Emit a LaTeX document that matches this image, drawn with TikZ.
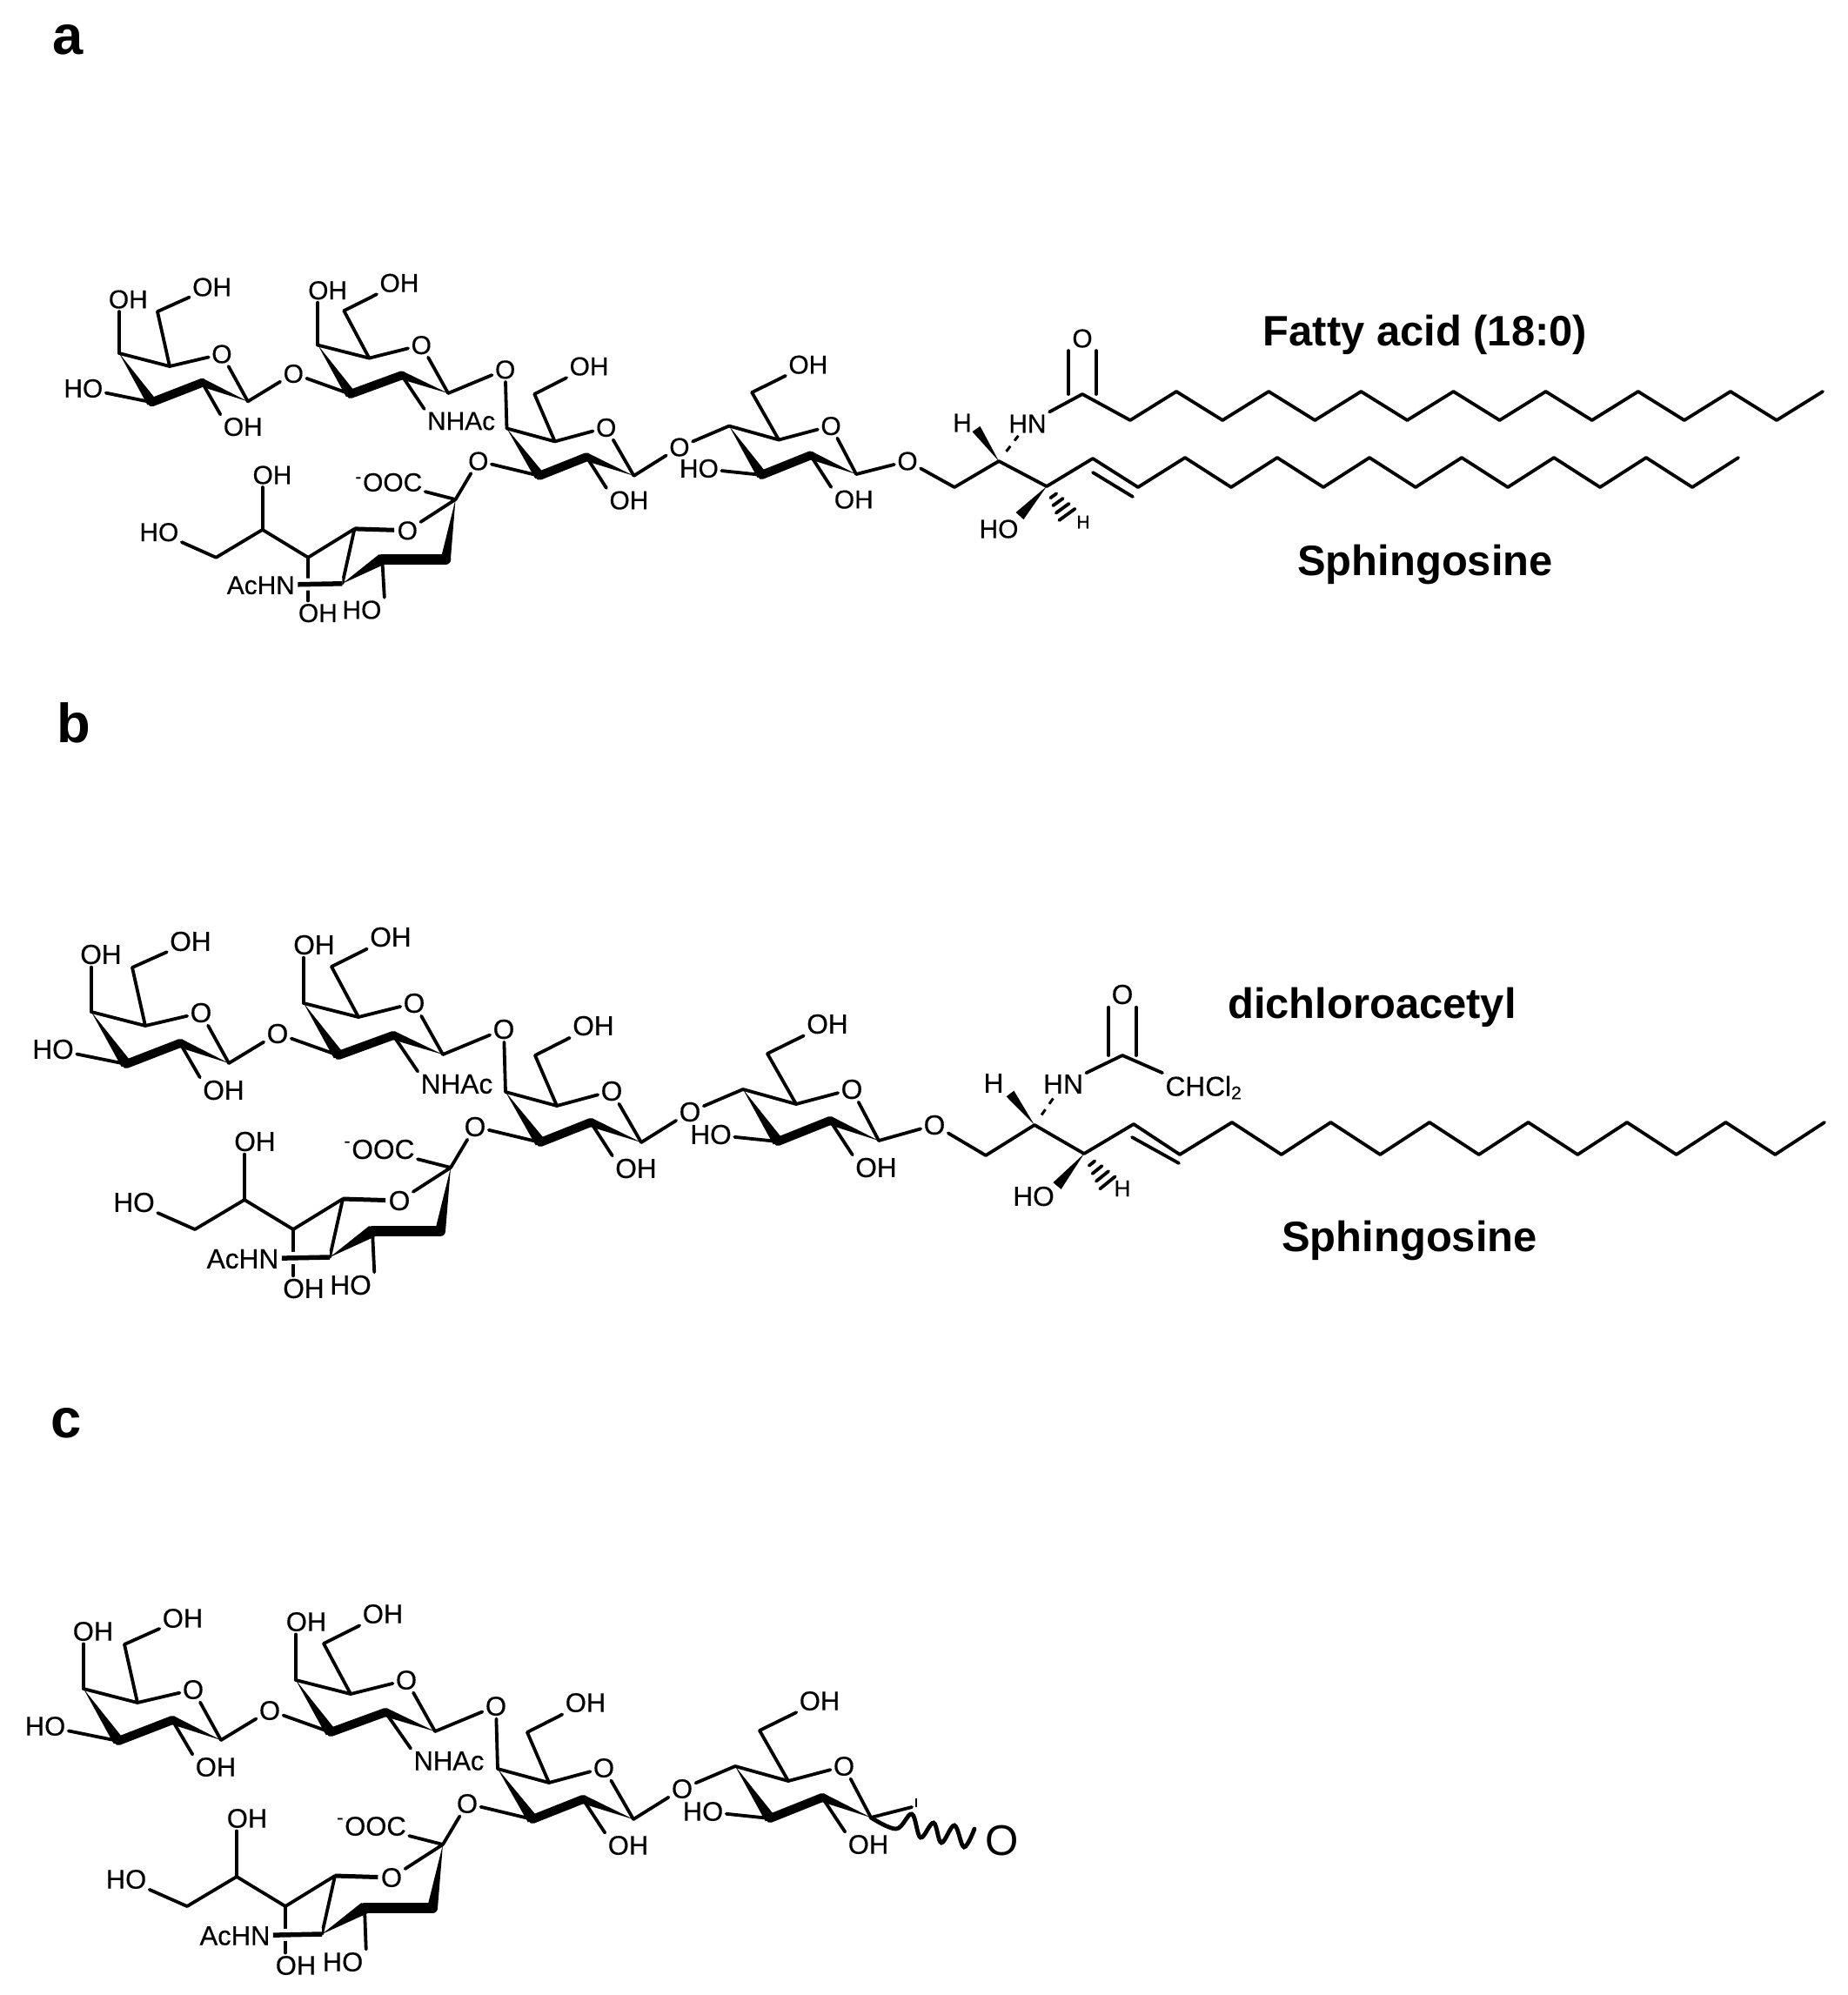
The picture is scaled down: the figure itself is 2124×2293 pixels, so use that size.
\documentclass[tikz,border=0pt]{standalone}
\usepackage{fontspec}
\setmainfont{Liberation Sans}
\newfontfamily\atomfont[FakeBold=0.4]{Liberation Sans}
\usetikzlibrary{calc}
\tikzset{
  bond/.style={line width=0.038cm,line cap=round,line join=round},
  boldbond/.style={line width=0.1cm,line cap=round},
  fatbond/.style={line width=0.12cm,line cap=round},
  hashbond/.style={line width=0.03cm,dash pattern=on 2.2pt off 2.2pt,shorten <=4pt},
  haloed/.style={preaction={draw=white,line width=0.14cm}},
  atom/.style={inner sep=1pt,outer sep=0pt},
  title/.style={font=\fontsize{13.9}{16}\selectfont\bfseries,inner sep=0pt},
  panel/.style={font=\fontsize{18}{20}\selectfont\bfseries,anchor=base,inner sep=0pt}
}
\newcommand{\wedgebond}[3]{\fill (#1) -- ($(#2)!#3!90:(#1)$) -- ($(#2)!#3!-90:(#1)$) -- cycle;}
\newcommand{\hashwedge}[2]{
  \foreach \t/\w in {.3/1.2pt,.5/2pt,.7/2.6pt,.9/3.2pt}
    \draw[bond] ($(#1)!\t!(#2)!\w!90:(#2)$) -- ($(#1)!\t!(#2)!\w!-90:(#2)$);
}
\newcommand{\ringbonds}[1]{
  \draw[bond] (#1c4) -- (#1c5) -- (#1o) -- (#1c1);
  \draw[bond] (#1c5) -- (#1c6);
  \wedgebond{#1c4}{#1c3}{0.062cm}
  \draw[boldbond] (#1c3) -- (#1c2);
  \wedgebond{#1c1}{#1c2}{0.05cm}
}
\newcommand{\zigzag}[7]{
  \foreach \n [remember=\n as \m (initially 0)] in {1,...,#7} {
    \pgfmathsetmacro{\zx}{#3+(\n-1)*#4}
    \pgfmathsetmacro{\zy}{isodd(\n) ? #5 : #6}
    \coordinate (#1-\n) at (\zx,\zy);
    \ifnum\n=1 \draw[bond] (#2) -- (#1-\n);
    \else \draw[bond] (#1-\m) -- (#1-\n); \fi
  }
}
\newcommand{\glycan}[1]{
  \coordinate (#1-r1c1) at (263,1222);
  \coordinate (#1-r1c2) at (207,1199);
  \coordinate (#1-r1c3) at (145,1223);
  \coordinate (#1-r1c4) at (105,1163);
  \coordinate (#1-r1c5) at (167,1179);
  \coordinate (#1-r1c6) at (152,1112);
  \node[atom] (#1-r1o) at (231,1164) {O};
  \node[atom] (#1-r1oh4) at (116,1097) {OH};
  \node[atom] (#1-r1oh6) at (219,1082) {OH};
  \node[atom] (#1-r1oh3) at (61,1206) {HO};
  \node[atom] (#1-r1oh2) at (257,1253) {OH};
  \node[atom] (#1-o12) at (319,1188) {O};
  \ringbonds{#1-r1}
  \draw[bond] (#1-r1c4) -- (#1-r1c4 |- #1-r1oh4.south);
  \draw[bond] (#1-r1c6) -- (#1-r1oh6);
  \draw[bond] (#1-r1c3) -- (#1-r1oh3);
  \draw[bond] (#1-r1c2) -- (#1-r1oh2.north west);
  \draw[bond] (#1-r1c1) -- (#1-o12);
  \coordinate (#1-r2c1) at (509,1212);
  \coordinate (#1-r2c2) at (452,1190);
  \coordinate (#1-r2c3) at (389,1213);
  \coordinate (#1-r2c4) at (349,1153);
  \coordinate (#1-r2c5) at (412,1169);
  \coordinate (#1-r2c6) at (381,1111);
  \node[atom] (#1-r2o) at (476,1153) {O};
  \node[atom] (#1-r2oh4) at (361,1086) {OH};
  \node[atom] (#1-r2oh6) at (449,1077) {OH};
  \node[atom] (#1-nhac) at (525,1246) {NHAc};
  \node[atom] (#1-o23) at (579,1183) {O};
  \ringbonds{#1-r2}
  \draw[bond] (#1-o12) -- (#1-r2c3);
  \draw[bond] (#1-r2c4) -- (#1-r2c4 |- #1-r2oh4.south);
  \draw[bond] (#1-r2c6) -- (#1-r2oh6);
  \draw[bond] (#1-r2c2) -- (#1-nhac.north west);
  \draw[bond] (#1-r2c1) -- (#1-o23);
  \coordinate (#1-r3c1) at (737,1313);
  \coordinate (#1-r3c2) at (679,1290);
  \coordinate (#1-r3c3) at (621,1313);
  \coordinate (#1-r3c4) at (581,1255);
  \coordinate (#1-r3c5) at (640,1271);
  \coordinate (#1-r3c6) at (615,1213);
  \node[atom] (#1-r3o) at (703,1254) {O};
  \node[atom] (#1-r3oh6) at (682,1179) {OH};
  \node[atom] (#1-r3oh2) at (731,1343) {OH};
  \node[atom] (#1-o3s) at (546,1295) {O};
  \node[atom] (#1-o34) at (793,1278) {O};
  \ringbonds{#1-r3}
  \draw[bond] (#1-o23) -- (#1-r3c4);
  \draw[bond] (#1-r3c6) -- (#1-r3oh6);
  \draw[bond] (#1-r3c2) -- (#1-r3oh2.north west);
  \draw[bond] (#1-r3c3) -- (#1-o3s);
  \draw[bond] (#1-r3c1) -- (#1-o34);
  \coordinate (#1-r4c1) at (1010,1311);
  \coordinate (#1-r4c2) at (954,1288);
  \coordinate (#1-r4c3) at (894,1312);
  \coordinate (#1-r4c4) at (854,1252);
  \coordinate (#1-r4c5) at (915,1269);
  \coordinate (#1-r4c6) at (882,1211);
  \node[atom] (#1-r4o) at (979,1252) {O};
  \node[atom] (#1-r4oh6) at (951,1177) {OH};
  \node[atom] (#1-r4oh3) at (817,1304) {HO};
  \node[atom] (#1-r4oh2) at (1007,1342) {OH};
  \ringbonds{#1-r4}
  \draw[bond] (#1-o34) -- (#1-r4c4);
  \draw[bond] (#1-r4c6) -- (#1-r4oh6);
  \draw[bond] (#1-r4c3) -- (#1-r4oh3);
  \draw[bond] (#1-r4c2) -- (#1-r4oh2.north west);
  \coordinate (#1-s2) at (518,1342);
  \coordinate (#1-s3) at (506,1415);
  \coordinate (#1-s4) at (428,1415);
  \coordinate (#1-s5) at (379,1445);
  \coordinate (#1-s6) at (394,1378);
  \coordinate (#1-s7) at (337,1413);
  \coordinate (#1-s8) at (281,1379);
  \coordinate (#1-s9) at (224,1413);
  \node[atom] (#1-so) at (459,1380) {O};
  \node[atom] (#1-coo) at (436,1321) {\textsuperscript{-}OOC};
  \node[atom] (#1-soh8) at (293,1312) {OH};
  \node[atom] (#1-soh9) at (154,1382) {HO};
  \node[atom] (#1-achn) at (279,1447) {AcHN};
  \node[atom] (#1-soh7) at (349,1481) {OH};
  \node[atom] (#1-soh4) at (403,1477) {HO};
  \draw[bond] (#1-o3s) -- (#1-s2);
  \draw[bond] (#1-s2) -- (#1-coo);
  \draw[bond] (#1-s2) -- (#1-so);
  \draw[line width=0.05cm] (#1-so) -- (#1-s6);
  \draw[bond] (#1-s6) -- (#1-s7) -- (#1-s8) -- (#1-s9) -- (#1-soh9);
  \draw[bond] (#1-s6) -- (#1-s5);
  \draw[bond] (#1-s8) -- (#1-s8 |- #1-soh8.south);
  \draw[bond] (#1-s7) -- (#1-s7 |- #1-soh7.north);
  \draw[line width=0.055cm,haloed] (#1-s5) -- (#1-achn);
  \draw[bond] (#1-s4) -- (#1-soh4.north east);
  \wedgebond{#1-s5}{#1-s4}{0.07cm}
  \draw[fatbond] (#1-s4) -- (#1-s3);
  \wedgebond{#1-s2}{#1-s3}{0.06cm}
}
\begin{document}
\begin{tikzpicture}[x=0.01cm,y=-0.01cm]
\useasboundingbox (0,0) rectangle (2124,2293);

\node[panel] (lettera) at (78,62) {a};
\begin{scope}[shift={(38.7,-686)},xscale=0.936,yscale=0.939,font=\atomfont\fontsize{8.5}{10}\selectfont]
\glycan{a}
\end{scope}
\begin{scope}[font=\atomfont\fontsize{8.5}{10}\selectfont]
\node[atom] (a-o5) at (1043,530) {O};
\coordinate (a-sp1) at (1097,560);
\coordinate (a-sp2) at (1148,530);
\coordinate (a-sp3) at (1203,559);
\coordinate (a-sp4) at (1256,527);
\coordinate (a-sp5) at (1308,560);
\coordinate (a-dbl1) at (1256,543);
\coordinate (a-dbl2) at (1302,571);
\coordinate (a-co) at (1244,453);
\coordinate (a-oend) at (1229,595);
\node[atom] (a-h1) at (1106,486) {H};
\node[atom] (a-hn) at (1181,487) {HN};
\node[atom] (a-ocarb) at (1244,389) {O};
\node[atom] (a-ho) at (1148,608) {HO};
\node[atom,font=\atomfont\fontsize{6}{7}\selectfont] (a-h2) at (1245,600) {H};
\coordinate (a-w1) at (1122,493);
\coordinate (a-w2) at (1172,593);
\draw[bond] (a-r4c1) -- (a-o5) -- (a-sp1) -- (a-sp2) -- (a-sp3) -- (a-sp4) -- (a-sp5);
\draw[bond] (a-dbl1) -- (a-dbl2);
\wedgebond{a-sp2}{a-w1}{0.055cm}
\draw[hashbond] (a-sp2) -- (a-hn);
\wedgebond{a-sp3}{a-w2}{0.06cm}
\hashwedge{a-sp3}{a-oend}
\draw[bond] (a-hn) -- (a-co);
\draw[bond] ([xshift=-4.5]a-co) -- ([xshift=-4.5]a-ocarb.south);
\draw[bond] ([xshift=4.5]a-co) -- ([xshift=4.5]a-ocarb.south);
\zigzag{a-fa}{a-co}{1299}{53.07}{483}{450}{16}
\zigzag{a-sph}{a-sp5}{1362}{53}{526}{560}{13}
\end{scope}
\node[title] (a-fatty) at (1638,385) {Fatty acid (18:0)};
\node[title] (a-sphingo) at (1638,649) {Sphingosine};

\node[panel] (letterb) at (85,853) {b};
\begin{scope}[font=\atomfont\fontsize{9}{10}\selectfont]
\glycan{b}
\node[atom] (b-o5) at (1074,1293) {O};
\coordinate (b-sp1) at (1133,1328);
\coordinate (b-sp2) at (1189,1293);
\coordinate (b-sp3) at (1246,1326);
\coordinate (b-sp4) at (1303,1292);
\coordinate (b-sp5) at (1356,1327);
\coordinate (b-dbl1) at (1301,1307);
\coordinate (b-dbl2) at (1355,1337);
\coordinate (b-co) at (1290,1213);
\coordinate (b-oend) at (1276,1363);
\node[atom] (b-h1) at (1142,1245) {H};
\node[atom] (b-hn) at (1222,1246) {HN};
\node[atom] (b-ocarb) at (1290,1143) {O};
\node[atom,anchor=west] (b-chcl) at (1336,1250) {CHCl\textsubscript{2}};
\node[atom] (b-ho) at (1188,1375) {HO};
\node[atom,font=\atomfont\fontsize{7.5}{8}\selectfont] (b-h2) at (1290,1366) {H};
\coordinate (b-w1) at (1161,1257);
\coordinate (b-w2) at (1215,1363);
\draw[bond] (b-r4c1) -- (b-o5) -- (b-sp1) -- (b-sp2) -- (b-sp3) -- (b-sp4) -- (b-sp5);
\draw[bond] (b-dbl1) -- (b-dbl2);
\wedgebond{b-sp2}{b-w1}{0.055cm}
\draw[hashbond] (b-sp2) -- (b-hn);
\wedgebond{b-sp3}{b-w2}{0.06cm}
\hashwedge{b-sp3}{b-oend}
\draw[bond] (b-hn) -- (b-co);
\draw[bond] (b-co) -- (b-chcl.north west);
\draw[bond] ([xshift=-4.5]b-co) -- ([xshift=-4.5]b-ocarb.south);
\draw[bond] ([xshift=4.5]b-co) -- ([xshift=4.5]b-ocarb.south);
\zigzag{b-sph}{b-sp5}{1416}{56.75}{1290}{1327}{13}
\end{scope}
\node[title] (b-dichloro) at (1577,1158) {dichloroacetyl};
\node[title] (b-sphingo) at (1620,1426) {Sphingosine};

\node[panel] (letterc) at (76,1652) {c};
\begin{scope}[shift={(-9,778)},font=\atomfont\fontsize{8.8}{10}\selectfont]
\glycan{c}
\end{scope}
\coordinate (c-tail) at (1048,2077);
\coordinate (c-tick1) at (1053,2067);
\coordinate (c-tick2) at (1053,2077);
\coordinate (c-wave) at (1120,2102);
\node[inner sep=0pt,font=\fontsize{14}{16}\selectfont] (c-oh) at (1152,2116) {O};
\draw[bond] (c-r4c1) -- (c-tail);
\draw[line width=0.02cm] (c-tick1) -- (c-tick2);
\draw[line width=0.048cm,line cap=round] plot[smooth,tension=0.6] coordinates {(c-r4c1) (1030,2102) (1048,2085) (1058,2112) (1073,2095) (1082,2118) (1097,2098) (1108,2123) (c-wave)};
\end{tikzpicture}
\end{document}
